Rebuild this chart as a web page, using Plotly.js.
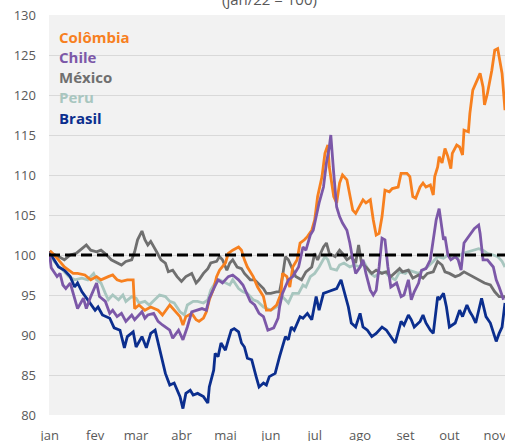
<!DOCTYPE html>
<html>
<head>
<meta charset="utf-8">
<script src="https://cdn.plot.ly/plotly-3.0.1.min.js"></script>
<style>html,body{margin:0;padding:0;background:#fff;}#chart{width:505px;height:441px;}</style>
</head>
<body>
<div id="chart"></div>
<script>
// x values are days since 1 Jan 2022
const monthDays = [0, 31, 59, 90, 120, 151, 181, 212, 243, 273, 304];
const monthLabels = ["jan", "fev", "mar", "abr", "mai", "jun", "jul", "ago", "set", "out", "nov"];
const yTicks = [80, 85, 90, 95, 100, 105, 110, 115, 120, 125, 130];

const colombiaDays = [0,1,6,10,16,19,24,28,32,35,40,43,46,49,53,57,58,61,65,69,74,77,82,85,89,91,93,97,100,102,105,107,109,112,114,116,120,122,125,129,131,133,135,139,142,146,148,151,155,158,159,162,164,166,169,171,174,176,179,181,183,186,188,190,191,194,196,198,200,203,205,207,209,212,214,216,219,221,223,225,227,229,232,234,238,240,244,246,248,250,253,255,257,260,262,263,265,266,268,270,272,274,275,278,280,282,283,286,287,289,291,294,296,297,299,302,304,306,309,311];
const colombia = [100.5,100.4,99.4,98.5,97.7,97.7,97.5,96.9,97.3,96.9,97.3,97.5,96.9,96.7,96.9,96.9,93.3,93.75,93.1,93.5,93.1,92.5,93.75,93.1,92.3,91.25,92.3,92.7,91.9,91.7,92.1,92.9,94.4,95.8,97.3,98.1,99,100.2,100.6,101,100.6,99.4,98.5,97.3,96,94.8,93.1,93.1,93.75,95.2,97.7,97.3,96,98.5,99.4,101.5,101.9,102.3,103.1,104.4,107.3,109.8,112.7,113.75,111,107.3,106.5,109,110,109.4,107.3,105.6,105.2,106.25,106.9,106.5,106.9,104.4,102.5,102.7,104.8,108.1,107.9,108.3,108.5,110.2,110.2,109.8,107.3,107.1,108.5,109,108.5,108.75,107.5,109.8,111,112.3,111.5,113.3,112.3,110.8,112.7,113.75,113.5,112.5,115.6,115.4,117.7,120.6,121.5,122.7,121,118.75,120.2,123.1,125.6,125.8,122.7,118.1];

const chileDays = [0,1,5,7,9,11,14,17,19,23,25,28,32,34,38,41,43,46,49,52,56,58,60,63,65,67,71,74,77,79,82,84,88,91,94,97,100,104,107,109,112,115,118,122,125,129,132,134,137,140,143,146,149,153,156,157,159,163,166,170,173,175,178,180,182,184,187,189,191,192,194,196,198,200,203,205,207,209,212,214,216,219,221,223,225,227,229,231,233,237,240,242,245,247,249,252,254,257,260,262,264,266,268,269,270,272,274,277,279,281,283,286,288,290,293,294,296,299,303,305,307,310];
const chile = [100,98.4,97.3,97.7,96.25,95.8,96.5,94.6,93.3,94.6,93.3,94.8,96.5,94.8,94.2,92.7,93.1,92.3,92.7,91.7,92.5,91.9,92.3,92.9,92.1,92.5,92.7,91.7,91.25,91,90.6,89.6,90.6,89.4,91,92.9,93.1,93.3,93.1,94.6,95.8,96.9,96.5,97.3,97.5,96.9,96.25,95.4,94.2,93.75,92.7,92.3,90.6,90.9,92.1,93.5,95.2,96.9,97.3,98.5,101,100.6,102.5,103.1,104.8,106.5,108.5,111.5,113.5,115,110.2,106,104.8,104,103.1,101.5,99.4,97.7,98.5,99.4,97.7,95.6,95,95.6,98.5,102.1,101.9,98.5,96,96.5,94.8,95,96.9,94.4,95.4,96.5,98.1,98.3,99.4,101.9,104.4,105.8,103.1,101.9,102.3,100,99.4,99.8,99.4,98.1,101.5,102.3,102.7,103.3,103.75,102.7,99.4,99.4,98.5,96.9,96,94.4];

const mexicoDays = [0,1,6,10,14,18,22,25,28,32,35,39,42,46,49,52,56,58,60,63,65,67,69,73,76,79,81,84,87,90,93,97,100,102,105,108,110,114,116,118,121,123,125,128,131,133,137,140,142,146,148,151,155,157,159,161,163,165,168,172,175,179,181,183,187,189,191,195,198,200,203,206,209,211,213,216,220,223,227,230,233,239,241,245,248,252,255,258,262,265,268,270,273,277,280,283,287,290,294,297,301,304,307,311];
const mexico = [100.5,100.2,99.8,99.4,100,100.2,100.8,101.25,100.6,100.4,100.6,100,99.4,99,98.75,99.2,99.4,100.4,101.9,103,101.9,101.25,101.7,100.4,99.4,99,97.9,98.1,97.3,96.7,97.3,97.7,96.5,96.9,97.7,98.3,99,99.2,99.8,99.4,98.1,99,99.4,98.5,98.3,97.7,96.9,96.9,96.5,95.8,95.2,95.2,95.4,95.4,97.3,99.8,99.4,98.5,97.3,96.9,97.9,98.5,100.2,99.4,101,101.5,100.2,99.8,100.6,100.2,99.4,99.8,99,101.25,99,98.5,97.7,98.1,97.7,97.9,97.3,98.3,97.9,98.1,97.1,97.5,97.1,97.7,97.9,99.2,98.75,97.9,97.7,97.3,97.5,97.9,97.5,97.1,96.7,96.5,96.25,95.4,94.8,94.8];

const peruDays = [0,3,8,13,17,22,26,30,32,35,38,40,43,47,50,52,56,59,61,65,68,72,75,79,82,85,89,92,94,98,101,105,108,110,113,116,120,123,125,129,132,135,139,142,146,148,151,155,157,159,163,166,170,173,175,178,181,184,188,190,192,196,198,201,205,208,212,215,219,222,225,229,232,236,239,243,245,248,252,255,258,262,265,269,272,275,279,282,286,289,293,296,299,303,306,309,311];
const peru = [100.2,99.2,98.3,97.3,96.9,97.1,96.9,97.7,96.9,96.5,95.2,94.4,95,94.4,95,94.2,94.8,94.6,94,94.2,93.75,94.4,95,94.8,94.2,94,92.9,92.5,93.75,94.2,94.2,94,94.4,95.6,96.5,96.9,96.5,96.25,96.9,95.8,95.4,95.2,94.4,94.2,93.5,93.3,93.1,93.5,94.2,94.8,94,95.2,95.2,96.25,96,97.3,97.7,98.5,99.8,99.4,98.3,98.1,98.75,99,98.5,98.75,98.5,99,97.7,97.3,97.7,97.9,97.3,96.9,97.9,97.7,98.1,97.9,97.7,98.1,98.5,99.2,99.8,99.6,100,99.6,99.8,100.2,100.4,100.6,100.8,100.6,100.2,100,99.8,99.2,98.5];

const brasilDays = [0,1,6,10,14,17,19,22,26,31,33,36,41,44,48,51,53,57,59,63,66,69,72,75,79,82,85,89,91,93,96,98,101,105,108,109,112,113,115,117,120,122,124,126,129,131,133,135,138,141,143,146,148,150,154,157,161,163,165,167,171,173,176,179,182,184,187,190,193,196,199,201,204,206,209,212,214,217,220,223,227,230,233,236,240,242,245,247,249,253,255,257,260,262,265,266,269,271,273,277,280,282,285,287,289,291,295,298,301,303,305,307,309,311];
const brasil = [100.5,100,98.5,98.1,97.3,96,96.5,95.4,94.4,93.1,93.5,92.5,92.1,90.9,90.6,88.4,89.8,90.4,88.5,89.8,88.4,90.2,90.6,88.1,85.2,83.75,84,82.3,80.8,82.7,83.1,82.5,82.7,82.3,81.5,83.5,85.6,87.7,87.3,89,88.1,89.4,90.6,90.8,90.4,89,88.5,87.1,86.9,84.8,83.5,84,83.75,84.8,85.2,87.3,89.8,89.4,91,90.6,92.3,92.1,92.7,91.9,94.8,93.1,95.2,95.4,95.6,95.8,96.9,95.6,93.5,91.5,91,92.7,91,90.6,89.8,90.2,91,90.6,89.8,89,91.7,91.25,92.5,91.9,91,91.7,92.5,91.5,90.6,90.2,94.8,94.4,95.2,93.5,91,91.5,93.1,92.3,93.75,92.9,92.3,91.5,94.6,92.3,91.5,90.2,89.2,90.2,91,94];

const names = ["Colômbia", "Chile", "México", "Peru", "Brasil"];
const colors = {"Colômbia": "#F7801F", "Chile": "#7C58A8", "México": "#6F6F6F", "Peru": "#A8C6BF", "Brasil": "#0B2E8E"};

function tr(x, y, name) {
  return {x: x, y: y, name: name, type: "scatter", mode: "lines",
          line: {color: colors[name], width: 2.8, shape: "linear"},
          hoverinfo: "skip", showlegend: false};
}

const data = [
  tr(peruDays, peru, "Peru"),
  tr(mexicoDays, mexico, "México"),
  tr(brasilDays, brasil, "Brasil"),
  tr(colombiaDays, colombia, "Colômbia"),
  tr(chileDays, chile, "Chile")
];

const FONT = "'Open Sans', 'Noto Sans', sans-serif";
const legendY = [0.945, 0.895, 0.845, 0.795, 0.743];
const annotations = names.map((n, i) => ({
  text: "<b>" + n + "</b>", xref: "paper", yref: "paper", x: 0.018, y: legendY[i],
  xanchor: "left", yanchor: "middle", showarrow: false,
  font: {family: FONT, size: 15, color: colors[n]}
}));
annotations.push({
  text: "(jan/22 = 100)", xref: "paper", yref: "paper", x: 0.484, y: 1, yshift: 16,
  xanchor: "center", yanchor: "middle", showarrow: false,
  font: {family: FONT, size: 15, color: "#595959"}
});

const layout = {
  width: 505, height: 441,
  margin: {l: 49, r: 0, t: 15, b: 26, pad: 0},
  paper_bgcolor: "#ffffff",
  plot_bgcolor: "#F2F2F2",
  font: {family: FONT, color: "#595959", size: 13},
  showlegend: false,
  xaxis: {
    range: [-0.5, 311], tickvals: monthDays, ticktext: monthLabels,
    showgrid: false, zeroline: false, showline: false, ticks: "",
    ticklabeloverflow: "allow",
    tickfont: {family: FONT, size: 13, color: "#595959"}, ticklabelstandoff: 11, fixedrange: true
  },
  yaxis: {
    range: [80, 130], tickvals: yTicks, ticktext: yTicks.map(String),
    showgrid: true, gridcolor: "#D9D9D9", gridwidth: 1, zeroline: false, showline: false, ticks: "",
    tickfont: {family: FONT, size: 13, color: "#595959"}, ticklabelstandoff: 12, fixedrange: true
  },
  shapes: [{
    type: "line", xref: "paper", yref: "y", x0: 0, x1: 1, y0: 100, y1: 100,
    line: {color: "#000000", width: 3, dash: "11px,5px"}, layer: "above"
  }],
  annotations: annotations
};

Plotly.newPlot("chart", data, layout, {staticPlot: true, displayModeBar: false});
</script>
</body>
</html>
